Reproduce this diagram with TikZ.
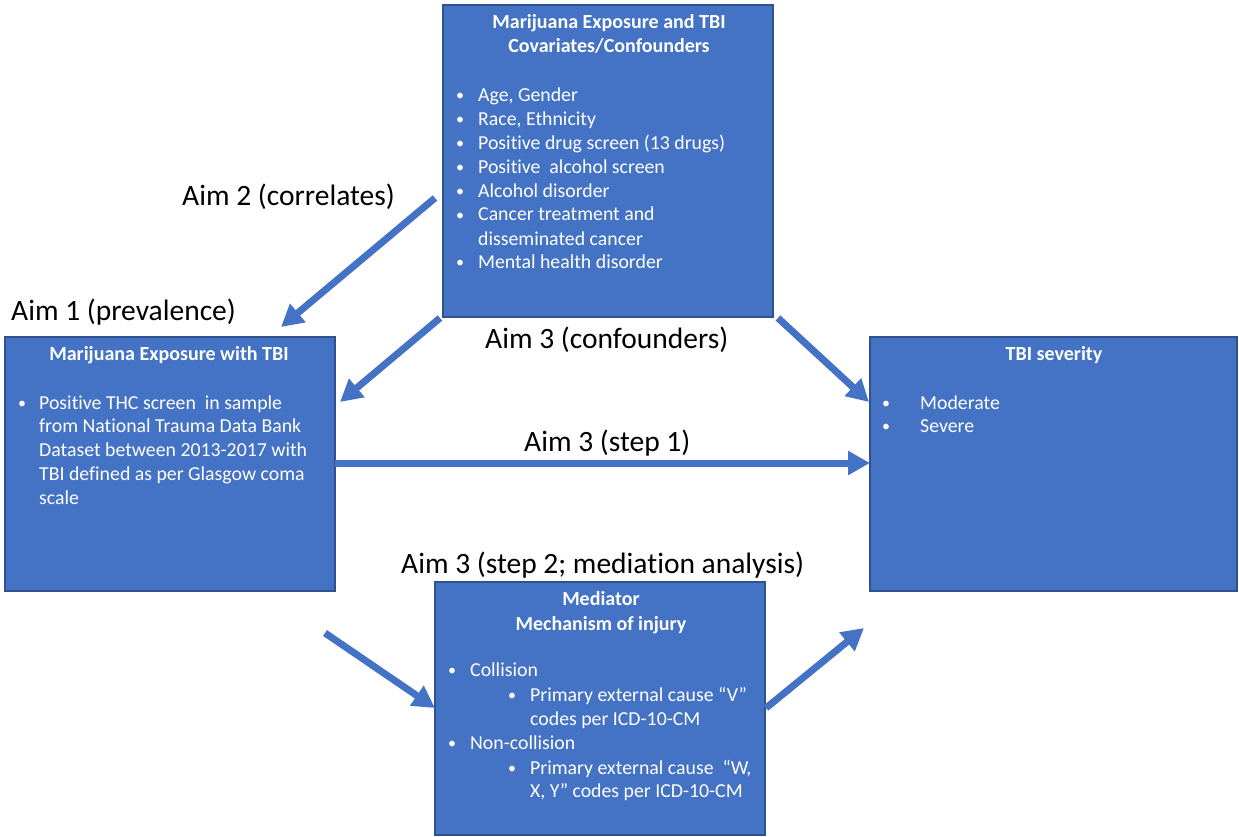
\documentclass[tikz,border=0pt]{standalone}
\usepackage{fontspec}
\setmainfont{Carlito}[Ligatures=CommonOff]
\usetikzlibrary{arrows.meta}
\definecolor{boxfill}{HTML}{4472C4}
\definecolor{boxline}{HTML}{2F528F}
\tikzset{
  box/.style={draw=boxline, line width=1.3pt, fill=boxfill, anchor=north west, inner sep=0pt, outer sep=0pt},
  body/.style={anchor=base west, inner sep=0pt, text=white, font=\fontsize{19.8}{24}\selectfont},
  bul/.style={anchor=base west, inner sep=0pt, text=white, font=\fontsize{16}{24}\selectfont},
  head/.style={anchor=base, inner sep=0pt, text=white, font=\fontsize{20}{24}\selectfont\bfseries},
  aimlabel/.style={anchor=base west, inner sep=0pt, text=black, font=\fontsize{29.5}{34}\selectfont},
  bigarrow/.style={draw=boxfill, line width=7pt, -{Triangle[length=22pt,width=23pt]}, shorten >=0pt},
}
\begin{document}
\begin{tikzpicture}[x=1pt,y=-1pt]
\useasboundingbox (0,0) rectangle (1239,837);
% boxes
\node[box, minimum width=330pt, minimum height=312pt] (conf) at (443,5) {};
\node[box, minimum width=330pt, minimum height=254pt] (expo) at (5,337) {};
\node[box, minimum width=367pt, minimum height=254pt] (sev) at (870,337) {};
\node[box, minimum width=330pt, minimum height=253pt] (med) at (435,582) {};

% top box text
\node[head] (ct1) at (609,29) {Marijuana Exposure and TBI};
\node[head] (ct2) at (609,53) {Covariates/Confounders};
\node[bul] (cb1) at (456,100.5) {•};
\node[body] (c1) at (478,101.5) {Age, Gender};
\node[bul] (cb2) at (456,125) {•};
\node[body] (c2) at (478,126) {Race, Ethnicity};
\node[bul] (cb3) at (456,149) {•};
\node[body] (c3) at (478,150) {Positive drug screen (13 drugs)};
\node[bul] (cb4) at (456,173) {•};
\node[body] (c4) at (478,174) {Positive\ \ alcohol screen};
\node[bul] (cb5) at (456,196.5) {•};
\node[body] (c5) at (478,197.5) {Alcohol disorder};
\node[bul] (cb6) at (456,220) {•};
\node[body] (c6) at (478,221) {Cancer treatment and};
\node[body] (c6b) at (478,245) {disseminated cancer};
\node[bul] (cb7) at (456,267.5) {•};
\node[body] (c7) at (478,268.5) {Mental health disorder};

% left box text
\node[head] (et) at (169,360.5) {Marijuana Exposure with TBI};
\node[bul] (eb1) at (18,408) {•};
\node[body] (e1) at (39,409) {Positive THC screen\ \ in sample};
\node[body] (e2) at (39,432) {from National Trauma Data Bank};
\node[body] (e3) at (39,456.5) {Dataset between 2013-2017 with};
\node[body] (e4) at (39,480) {TBI defined as per Glasgow coma};
\node[body] (e5) at (39,504) {scale};

% right box text
\node[head] (st) at (1054,360.5) {TBI severity};
\node[bul] (sb1) at (882,408) {•};
\node[body] (s1) at (920,409) {Moderate};
\node[bul] (sb2) at (882,431) {•};
\node[body] (s2) at (920,432) {Severe};

% bottom box text
\node[head] (mt1) at (601,605.5) {Mediator};
\node[head] (mt2) at (601,630) {Mechanism of injury};
\node[bul] (mb1) at (448,675.5) {•};
\node[body] (m1) at (470,676.5) {Collision};
\node[bul] (mb2) at (508,700.5) {•};
\node[body] (m2) at (530,701.5) {Primary external cause “V”};
\node[body] (m2b) at (530,725) {codes per ICD-10-CM};
\node[bul] (mb3) at (448,748) {•};
\node[body] (m3) at (470,749) {Non-collision};
\node[bul] (mb4) at (508,773) {•};
\node[body] (m4) at (530,774) {Primary external cause\ \ “W,};
\node[body] (m4b) at (530,797) {X, Y” codes per ICD-10-CM};

% labels
\node[aimlabel] (l2) at (182,205) {Aim 2 (correlates)};
\node[aimlabel] (l1) at (11,320) {Aim 1 (prevalence)};
\node[aimlabel] (l3a) at (485,348) {Aim 3 (confounders)};
\node[aimlabel] (l3b) at (524,451.5) {Aim 3 (step 1)};
\node[aimlabel] (l3c) at (401,573) {Aim 3 (step 2; mediation analysis)};

% arrow end points
\coordinate (a1s) at (435,198);
\coordinate (a1e) at (281,327);
\coordinate (a2s) at (440,318);
\coordinate (a2e) at (340,402);
\coordinate (a3s) at (778,318);
\coordinate (a3e) at (869,402);
\coordinate (a4s) at (335,463);
\coordinate (a4e) at (870,463);
\coordinate (a5s) at (325,633);
\coordinate (a5e) at (435,708);
\coordinate (a6s) at (766,708);
\coordinate (a6e) at (864,628);

\draw[bigarrow] (a1s) -- (a1e);
\draw[bigarrow] (a2s) -- (a2e);
\draw[bigarrow] (a3s) -- (a3e);
\draw[bigarrow] (a4s) -- (a4e);
\draw[bigarrow] (a5s) -- (a5e);
\draw[bigarrow] (a6s) -- (a6e);
\end{tikzpicture}
\end{document}
